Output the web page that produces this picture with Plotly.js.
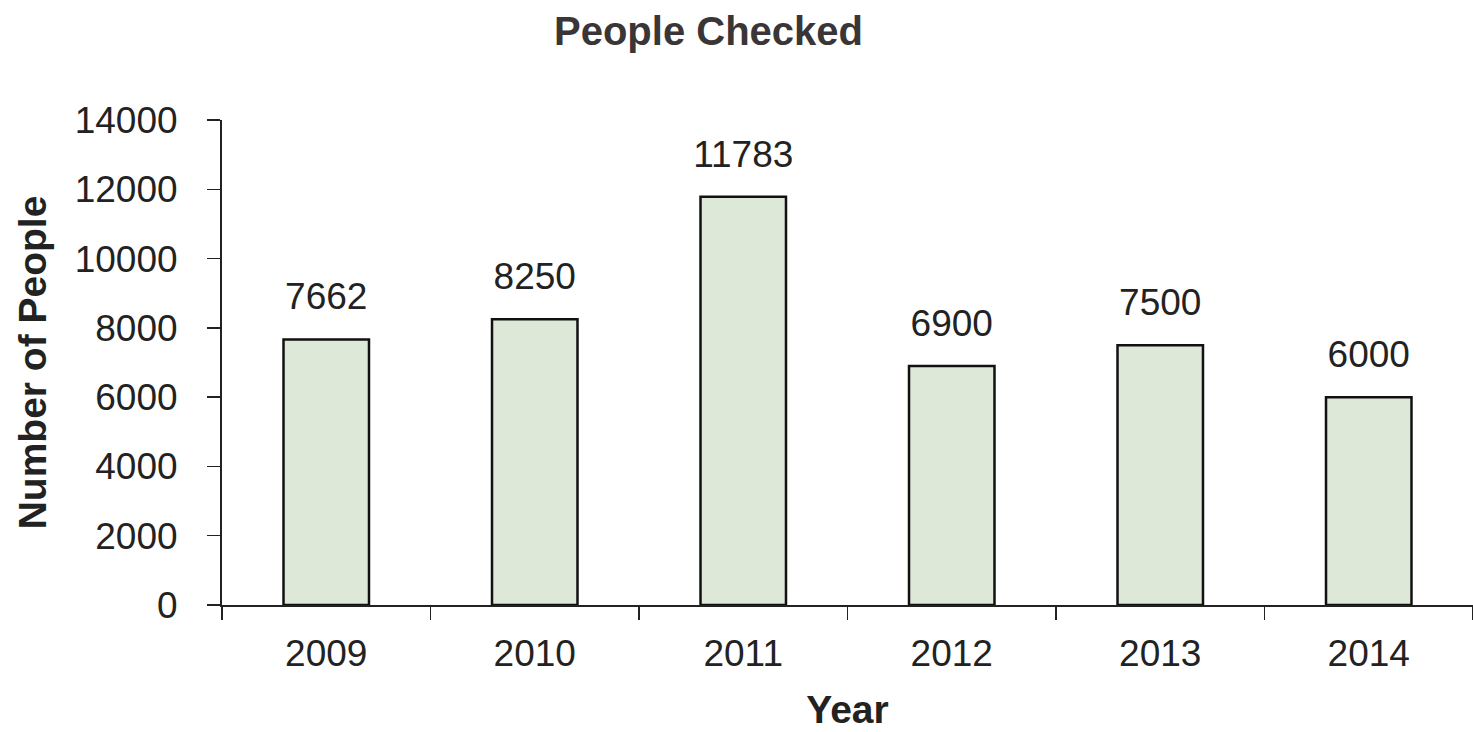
<!DOCTYPE html>
<html>
<head>
<meta charset="utf-8">
<script src="https://cdn.plot.ly/plotly-3.0.1.min.js"></script>
<style>html,body{margin:0;padding:0;background:#fff;}#chart{width:1473px;height:732px;}</style>
</head>
<body>
<div id="chart"></div>
<script>
const years = ["2009", "2010", "2011", "2012", "2013", "2014"];
const people = [7662, 8250, 11783, 6900, 7500, 6000];
const yTicks = [0, 2000, 4000, 6000, 8000, 10000, 12000, 14000];

const font = "Liberation Sans, Arial, sans-serif";
const bars = {
  type: "bar",
  x: years,
  y: people,
  width: 0.41,
  marker: {color: "#dde8d9", line: {color: "#111", width: 2.5}},
  hoverinfo: "x+y"
};
const labels = {
  type: "scatter",
  mode: "markers+text",
  x: years,
  y: people,
  text: people.map(String),
  textposition: "top center",
  cliponaxis: false,
  marker: {size: 32, color: "rgba(0,0,0,0)"},
  textfont: {family: font, size: 37, color: "#222"},
  hoverinfo: "skip"
};
const layout = {
  width: 1473, height: 732,
  margin: {l: 222, r: 0, t: 120, b: 127},
  paper_bgcolor: "#fff", plot_bgcolor: "#fff",
  showlegend: false,
  title: {text: "<b>People Checked</b>", x: 0.481, xanchor: "center", y: 0.958, yanchor: "middle",
          font: {family: font, size: 40, color: "#3a3536"}},
  xaxis: {
    type: "category",
    showline: true, linecolor: "#222", linewidth: 2,
    ticks: "outside", ticklen: 13, tickwidth: 1.5, tickcolor: "#222",
    tickson: "boundaries",
    ticklabelstandoff: 15,
    tickfont: {family: font, size: 37, color: "#222"},
    title: {text: "<b>Year</b>", font: {family: font, size: 39, color: "#222"}, standoff: 22},
    showgrid: false, zeroline: false, fixedrange: true
  },
  yaxis: {
    range: [0, 14000],
    tickvals: yTicks,
    ticktext: yTicks.map(String),
    showline: true, linecolor: "#222", linewidth: 2,
    ticks: "outside", ticklen: 13, tickwidth: 1.5, tickcolor: "#222",
    ticklabelstandoff: 22,
    tickfont: {family: font, size: 37, color: "#222"},
    title: {text: "<b>Number of People</b>", font: {family: font, size: 39, color: "#222"}, standoff: 16},
    showgrid: false, zeroline: false, fixedrange: true
  },
  bargap: 0.59
};
Plotly.newPlot("chart", [bars, labels], layout, {displayModeBar: false, staticPlot: true});
</script>
</body>
</html>
